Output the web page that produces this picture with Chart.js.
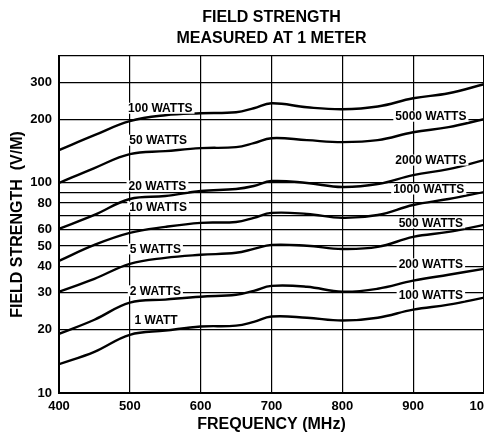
<!DOCTYPE html>
<html><head><meta charset="utf-8">
<script src="https://cdn.jsdelivr.net/npm/chart.js@4"></script>
<style>html,body{margin:0;padding:0;background:#fff;overflow:hidden}
#wrap{width:484px;height:437px;position:relative}</style>
</head><body><div id="wrap"><canvas id="c" width="484" height="437"></canvas></div>
<script>
// Frequencies (MHz)
const frequencies = [400,450,500,550,600,650,675,700,750,800,850,900,950,1000];
// Field strength curves (V/M), bottom to top
const curve1 = [13.7,15.7,18.9,19.8,20.7,20.9,21.8,23.1,22.8,22.1,22.8,24.9,26.3,28.4];
const curve2 = [19.1,22.3,26.9,27.8,28.7,29.3,30.6,32.3,32.0,30.3,31.3,34.2,36.5,38.9];
const curve3 = [30.3,34.9,41.1,43.9,45.4,46.4,48.4,50.6,50.1,48.4,49.5,55.2,58.3,63.0];
const curve4 = [42.5,50.6,57.7,61.6,64.4,65.0,68.0,71.8,71.0,68.0,70.2,78.3,83.6,90.2];
const curve5 = [60.3,70.2,83.6,86.4,91.2,93.3,96.4,101.8,99.6,95.3,98.5,108.6,116.0,128.0];
const curve6 = [99.6,117.3,136.6,141.2,145.9,147.5,154.1,162.7,159.2,155.8,159.2,173.7,183.5,200.3];
const curve7 = [142.8,168.1,196.0,209.2,213.8,216.1,225.8,238.5,228.3,223.4,230.0,251.8,266.0,293.5];
const curves = [curve1,curve2,curve3,curve4,curve5,curve6,curve7];

// Axis ticks
const xTickValues = [400,500,600,700,800,900,1000];
const xTickLabels = ['400','500','600','700','800','900','1000'];
const yTickValues = [10,20,30,40,50,60,70,80,90,100,200,300,400];
const yTickLabels = ['10','20','30','40','50','60','','80','','100','200','300',''];

// Curve annotations (text, frequency, field strength)
const noteTexts = ['100 WATTS','50 WATTS','20 WATTS','10 WATTS','5 WATTS','2 WATTS','1 WATT',
                   '5000 WATTS','2000 WATTS','1000 WATTS','500 WATTS','200 WATTS','100 WATTS'];
const noteFreqs = [543,540,539,540,536,536,537, 925,925,922,925,925,925];
const noteValues = [225.8,159.2,96.4,76.6,48.4,30.6,22.1, 206.9,128.0,93.3,64.4,41.1,29.3];

const FONT = "'Liberation Sans', Arial, Helvetica, sans-serif";

const notesPlugin = {
  id: 'notes',
  afterDatasetsDraw(chart) {
    const ctx = chart.ctx, xs = chart.scales.x, ys = chart.scales.y;
    ctx.save();
    ctx.font = 'bold 12px ' + FONT;
    ctx.textAlign = 'center';
    ctx.textBaseline = 'middle';
    noteTexts.forEach((t, i) => {
      const x = xs.getPixelForValue(noteFreqs[i]);
      const y = ys.getPixelForValue(noteValues[i]);
      const w = ctx.measureText(t).width;
      ctx.fillStyle = '#fff';
      ctx.fillRect(x - w/2 - 2, y - 5.5, w + 4, 11);
      ctx.fillStyle = '#000';
      ctx.fillText(t, x, y + 0.5);
    });
    ctx.restore();
  }
};

new Chart(document.getElementById('c'), {
  type: 'line',
  data: {
    datasets: curves.map(c => ({
      data: frequencies.map((f, i) => ({x: f, y: c[i]})),
      borderColor: '#000',
      borderWidth: 2.4,
      pointRadius: 0,
      tension: 0.4,
      fill: false
    }))
  },
  options: {
    responsive: false,
    animation: false,
    devicePixelRatio: 1,
    layout: {padding: 0},
    plugins: {
      legend: {display: false},
      tooltip: {enabled: false},
      title: {
        display: true,
        fullSize: false,
        text: ['FIELD STRENGTH', 'MEASURED AT 1 METER'],
        color: '#000',
        font: {family: FONT, size: 16, weight: 'bold', lineHeight: 1.3},
        padding: {top: 7, bottom: 7.4}
      }
    },
    scales: {
      x: {
        type: 'linear',
        min: 400, max: 1000,
        afterBuildTicks: s => { s.ticks = xTickValues.map(v => ({value: v})); },
        afterFit: s => { s.height = 44; s.paddingLeft = 0; s.paddingRight = 0; },
        grid: {color: '#000', lineWidth: 1.2, drawTicks: false},
        border: {color: '#000', width: 2},
        ticks: {color: '#000', font: {family: FONT, size: 13, weight: 'bold'}, padding: 6, maxRotation: 0, autoSkip: false,
                callback: (v, i) => xTickLabels[i]},
        title: {display: true, text: 'FREQUENCY (MHz)', color: '#000',
                font: {family: FONT, size: 16, weight: 'bold', lineHeight: 1.2}, padding: {top: 0, bottom: 2.4}}
      },
      y: {
        type: 'logarithmic',
        min: 10, max: 400,
        afterBuildTicks: s => { s.ticks = yTickValues.map(v => ({value: v})); },
        afterFit: s => { s.width = 59; s.paddingTop = 0; s.paddingBottom = 0; },
        grid: {color: '#000', lineWidth: 1.2, drawTicks: false},
        border: {color: '#000', width: 2},
        ticks: {color: '#000', font: {family: FONT, size: 13, weight: 'bold'}, padding: 7, autoSkip: false,
                callback: (v, i) => yTickLabels[i]},
        title: {display: true, text: 'FIELD STRENGTH  (V/M)', color: '#000',
                font: {family: FONT, size: 16, weight: 'bold', lineHeight: 1.2}, padding: {top: 8.4, bottom: 0}}
      }
    }
  },
  plugins: [notesPlugin]
});
</script></body></html>
